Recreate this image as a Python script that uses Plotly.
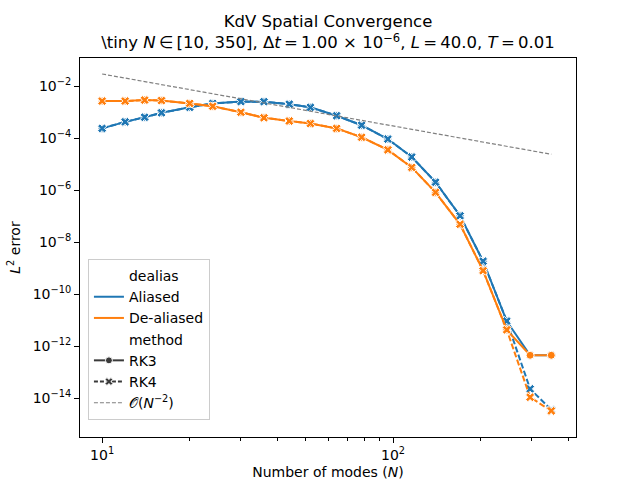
import plotly.graph_objects as go

N = [10, 12, 14, 16, 20, 24, 30, 36, 44, 52, 64, 78, 96, 116, 140, 170, 204, 246, 296, 350]

aliased_rk3 = [2.34e-4, 4.17e-4, 6.3e-4, 9.3e-4, 1.51e-3, 2.14e-3, 2.51e-3, 2.5e-3, 2.0e-3, 1.51e-3,
               7.2e-4, 3.1e-4, 9.1e-5, 1.86e-5, 2.0e-6, 1.02e-7, 1.82e-9, 9.1e-12, 4.4e-13, 4.4e-13]
aliased_rk4 = [2.34e-4, 4.17e-4, 6.3e-4, 9.3e-4, 1.51e-3, 2.14e-3, 2.51e-3, 2.5e-3, 2.0e-3, 1.51e-3,
               7.2e-4, 3.1e-4, 9.1e-5, 1.86e-5, 2.0e-6, 1.02e-7, 1.82e-9, 9.1e-12, 2.24e-14, 3.5e-15]
dealiased_rk3 = [2.63e-3, 2.63e-3, 2.88e-3, 2.75e-3, 2.14e-3, 1.66e-3, 9.8e-4, 6.0e-4, 4.5e-4, 3.6e-4,
                 2.34e-4, 1.07e-4, 3.5e-5, 7.4e-6, 8.1e-7, 4.8e-8, 7.9e-10, 4.2e-12, 4.4e-13, 4.4e-13]
dealiased_rk4 = [2.63e-3, 2.63e-3, 2.88e-3, 2.75e-3, 2.14e-3, 1.66e-3, 9.8e-4, 6.0e-4, 4.5e-4, 3.6e-4,
                 2.34e-4, 1.07e-4, 3.5e-5, 7.4e-6, 8.1e-7, 4.8e-8, 7.9e-10, 4.2e-12, 1.07e-14, 3.2e-15]

ref_N = [10, 350]
ref_err = [2.9e-2, 2.37e-5]

y_tickvals = [1e-14, 1e-12, 1e-10, 1e-8, 1e-6, 1e-4, 1e-2]
y_ticktext = ["10<sup>\u221214</sup>", "10<sup>\u221212</sup>", "10<sup>\u221210</sup>", "10<sup>\u22128</sup>",
              "10<sup>\u22126</sup>", "10<sup>\u22124</sup>", "10<sup>\u22122</sup>"]
x_tickvals = [10, 100]
x_ticktext = ["10<sup>1</sup>", "10<sup>2</sup>"]
x_minor = [20, 30, 40, 50, 60, 70, 80, 90, 200, 300, 400]

BLUE = "#1f77b4"
ORANGE = "#ff7f0e"
DASH = "6px,2.5px"

fig = go.Figure()

series = [
    (aliased_rk3, BLUE, "solid", "circle", 8),
    (aliased_rk4, BLUE, DASH, "x", 8),
    (dealiased_rk3, ORANGE, "solid", "circle", 8),
    (dealiased_rk4, ORANGE, DASH, "x", 8),
]
for ys, col, dash, sym, sz in series:
    fig.add_trace(go.Scatter(
        x=N, y=ys, mode="lines+markers", showlegend=False,
        line=dict(color=col, width=2, dash=dash),
        marker=dict(symbol=sym, size=sz, color=col, line=dict(color="white", width=1)),
    ))

fig.add_trace(go.Scatter(x=ref_N, y=ref_err, mode="lines", showlegend=False,
                         line=dict(color="gray", width=1.2, dash="4px,2px")))

# legend entries
def leg(name, **kw):
    fig.add_trace(go.Scatter(x=[None], y=[None], name=name, showlegend=True, **kw))

leg("dealias", mode="lines", line=dict(color="rgba(0,0,0,0)", width=2))
leg("Aliased", mode="lines", line=dict(color=BLUE, width=2))
leg("De-aliased", mode="lines", line=dict(color=ORANGE, width=2))
leg("method", mode="lines", line=dict(color="rgba(0,0,0,0)", width=2))
leg("RK3", mode="lines+markers", line=dict(color="#3a3a3a", width=2),
    marker=dict(symbol="circle", size=7, color="#3a3a3a", line=dict(color="white", width=1)))
leg("RK4", mode="lines+markers", line=dict(color="#3a3a3a", width=2, dash="4px,2px"),
    marker=dict(symbol="x", size=7, color="#3a3a3a", line=dict(color="white", width=1)))
leg("\U0001D4AA(<i>N</i><sup>\u22122</sup>)", mode="lines", line=dict(color="gray", width=1.2, dash="4px,2px"))

fig.update_layout(
    width=640, height=480,
    margin=dict(l=80, r=64, t=58, b=43),
    paper_bgcolor="white", plot_bgcolor="white",
    font=dict(family="DejaVu Sans", size=14, color="black"),
    title=dict(
        text="KdV Spatial Convergence<br>\\tiny <i>N</i>\u2009\u2208\u2009[10, 350], \u0394<i>t</i>\u2009=\u20091.00 \u00d7 10<sup>\u22126</sup>, <i>L</i>\u2009=\u200940.0, <i>T</i>\u2009=\u20090.01",
        x=0.5, xref="paper", xanchor="center",
        y=1 - 27 / 480, yref="container", yanchor="top",
        font=dict(size=16.5, family="DejaVu Sans"),
    ),
    legend=dict(
        x=0.016, y=0.045, xanchor="left", yanchor="bottom",
        bgcolor="rgba(255,255,255,0.8)", bordercolor="#cccccc", borderwidth=1,
        font=dict(size=14), itemwidth=30, tracegroupgap=0,
    ),
)

fig.update_xaxes(
    type="log", range=[0.924, 2.629], automargin=False,
    tickmode="array", tickvals=x_tickvals, ticktext=x_ticktext,
    ticks="outside", ticklen=5, tickwidth=1, tickcolor="black",
    minor=dict(tickmode="array", tickvals=x_minor, ticks="outside", ticklen=3, tickcolor="black", showgrid=False),
    showgrid=False, zeroline=False,
    showline=True, linecolor="black", linewidth=1, mirror=True,
    title=dict(text="Number of modes (<i>N</i>)", font=dict(size=14), standoff=8),
)
fig.update_yaxes(
    type="log", range=[-15.5, -0.923], automargin=False,
    tickmode="array", tickvals=y_tickvals, ticktext=y_ticktext,
    ticks="outside", ticklen=5, tickwidth=1, tickcolor="black",
    showgrid=False, zeroline=False,
    showline=True, linecolor="black", linewidth=1, mirror=True,
    title=dict(text="<i>L</i><sup>2</sup> error", font=dict(size=14), standoff=8),
)

fig.write_html("out.html")
